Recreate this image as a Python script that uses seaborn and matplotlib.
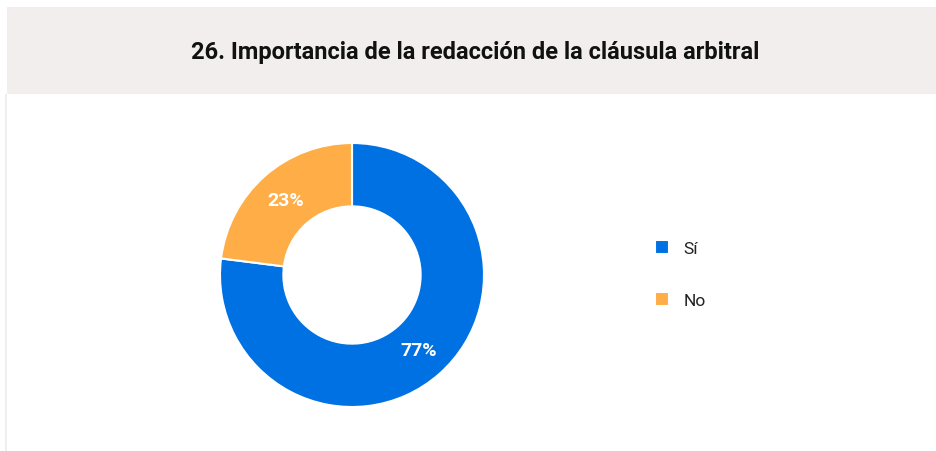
import matplotlib
matplotlib.use("Agg")
import matplotlib.pyplot as plt
from matplotlib.patches import Rectangle
import seaborn as sb

# --- data ---
categories = ["Sí", "No"]
shares = [77, 23]
colors = ["#0071e3", "#ffad47"]
title = "26. Importancia de la redacción de la cláusula arbitral"

sb.set_theme(style="white")
plt.rcParams["font.family"] = ["Roboto", "DejaVu Sans"]

W, H = 937, 452
fig = plt.figure(figsize=(W / 100, H / 100), dpi=100)
fig.patch.set_facecolor("white")

# header band and left border
fig.add_artist(Rectangle((7 / W, (H - 95) / H), 1, 87 / H,
                         transform=fig.transFigure, color="#f2eeee", lw=0))
fig.add_artist(Rectangle((5 / W, 0), 2 / W, (H - 95) / H,
                         transform=fig.transFigure, color="#eeeeee", lw=0))
fig.text(475 / W, (H - 53) / H, title, ha="center", va="center",
         fontsize=17, fontweight="bold", color="#111111")

# --- donut ---
ax = fig.add_axes([220 / W, 44 / H, 264 / W, 264 / H])
wedges, texts, autotexts = ax.pie(
    shares,
    colors=colors,
    startangle=90,
    counterclock=False,
    autopct="%d%%",
    pctdistance=0.76,
    wedgeprops=dict(width=0.48, edgecolor="white", linewidth=1.5),
    textprops=dict(color="white", fontsize=14, fontweight="bold"),
)
ax.set_xlim(-1, 1)
ax.set_ylim(-1, 1)
ax.set_aspect("equal")
ax.axis("off")

# --- legend ---
fig.legend(
    wedges, categories,
    loc="center left", bbox_to_anchor=(639 / W, (H - 275) / H),
    frameon=False, fontsize=12.5, handlelength=0.85, handleheight=0.85,
    labelspacing=2.1, handletextpad=0.8, labelcolor="#222222",
)

plt.savefig("out.png", dpi=100)
